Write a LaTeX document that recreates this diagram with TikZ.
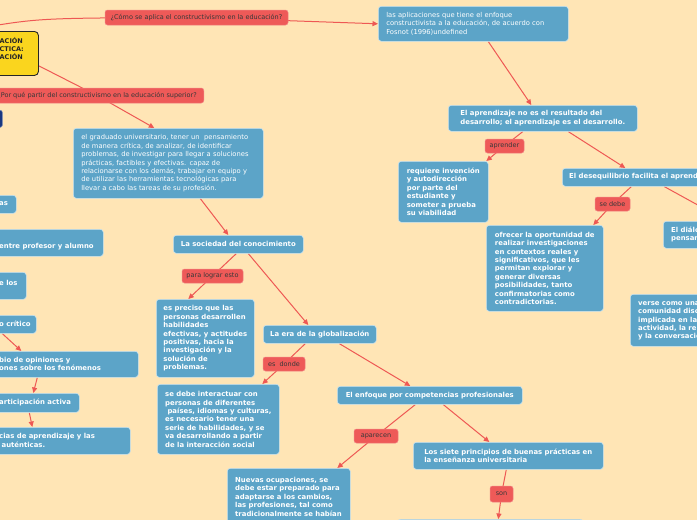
\documentclass[tikz,border=0pt]{standalone}
\usepackage{fontspec}
\setmainfont{DejaVu Sans}
\usetikzlibrary{arrows.meta}
\definecolor{bgc}{RGB}{255,229,181}
\definecolor{boxc}{RGB}{92,164,200}
\definecolor{boxedge}{RGB}{205,228,238}
\definecolor{redc}{RGB}{238,90,88}
\definecolor{linec}{RGB}{238,88,84}
\definecolor{yel}{RGB}{250,213,30}
\definecolor{navyc}{RGB}{25,55,128}
\newcommand\mfbold{\fontsize{6.9}{8.4}\selectfont\bfseries}
\newcommand\mfreg{\fontsize{6.75}{8.4}\selectfont}
\newcommand\mflab{\fontsize{6.5}{8}\selectfont}
\pgfdeclarelayer{back}
\pgfdeclarelayer{bg}
\pgfsetlayers{back,bg,main}
\tikzset{
  bbox/.style={fill=boxc, draw=boxedge, line width=0.6pt, rounded corners=3pt,
    text=white, font=\mfbold, align=left, inner xsep=0pt, inner ysep=0pt, anchor=north west},
  rbox/.style={bbox, font=\mfreg, inner xsep=8pt},
  btxt/.style={text=white, font=\mfbold, align=left, inner sep=0pt, anchor=west},
  lab/.style={fill=redc, draw=redc!75!white, line width=0.5pt, rounded corners=2.5pt,
    text=black!78, font=\mflab, inner sep=0pt},
  conn/.style={draw=linec, line width=1pt},
  arr/.style={conn, -{Triangle[length=5.5pt,width=5pt]}},
}
\begin{document}
\begin{tikzpicture}[x=1pt,y=-1pt]
\begin{pgfonlayer}{back}
\fill[bgc] (0,0) rectangle (697,520);
\end{pgfonlayer}
\useasboundingbox (0,0) rectangle (697,520);

% root
\node[fill=yel, draw=black!85, line width=0.9pt, rounded corners=4pt, minimum width=48, minimum height=44, anchor=north west, inner sep=0pt] (root) at (-10,31) {};
\node[font=\fontsize{6.5}{8}\selectfont\bfseries, text=black!85, align=left, inner sep=0pt, anchor=west] (roott) at (-0.5,49) {ACIÓN\\CTICA:\\ACIÓN};

% questions
\node[lab, minimum width=183, minimum height=15] (q1) at (196.5,17.5) {¿Cómo se aplica el constructivismo en la educación?};
\node[lab, minimum height=15, inner xsep=7pt, anchor=east] (q2) at (204,95.5) {¿Por qué partir del constructivismo en la educación superior?};
\node[fill=navyc, draw=navyc!60!white, line width=0.5pt, rounded corners=2pt, minimum width=12, minimum height=17, anchor=north west, inner sep=0pt] (navy) at (-10,110) {};

% right branch
\node[rbox, text width=174, minimum height=35] (apl) at (378,6) {las aplicaciones que tiene el enfoque\\constructivista a la educación, de acuerdo con\\Fosnot (1996)undefined};
\node[bbox, minimum width=189, minimum height=26] (apr) at (448,105) {El aprendizaje no es el resultado del\\desarrollo; el aprendizaje es el desarrollo.};
\node[lab, minimum width=39, minimum height=14] (laprender) at (504.5,146) {aprender};
\node[bbox, minimum width=90, minimum height=61] (req) at (398,161) {requiere invención\\y autodirección\\por parte del\\estudiante y\\someter a prueba\\su viabilidad};
\node[bbox, minimum width=160, minimum height=18] (deseq) at (562,168) {};
\node[btxt] (deseqt) at (569,177) {El desequilibrio facilita el aprend};
\node[lab, minimum width=35, minimum height=14] (lsedebe) at (612.5,204) {se debe};
\node[bbox, minimum width=117, minimum height=86] (ofrecer) at (486,225) {ofrecer la oportunidad de\\realizar investigaciones\\en contextos reales y\\significativos, que les\\permitan explorar y\\generar diversas\\posibilidades, tanto\\confirmatorias como\\contradictorias.};
\node[bbox, minimum width=60, minimum height=27] (dialogo) at (663,221) {};
\node[btxt] (dialogot) at (671,234.5) {El diálo\\pensam};
\node[bbox, minimum width=80, minimum height=52] (verse) at (630,294) {};
\node[btxt] (verset) at (638,321) {verse como una\\comunidad disc\\implicada en la\\actividad, la re\\y la conversació};
\coordinate (offright) at (725,220);

% middle branch
\node[rbox, text width=174, minimum height=70] (grad) at (73,128) {el graduado universitario, tener un \ pensamiento\\de manera crítica, de analizar, de identificar\\problemas, de investigar para llegar a soluciones\\prácticas, factibles y efectivas. capaz de\\relacionarse con los demás, trabajar en equipo y\\de utilizar las herramientas tecnológicas para\\llevar a cabo las tareas de su profesión.};
\node[bbox, minimum width=130, minimum height=18] (soc) at (173,235) {La sociedad del conocimiento};
\node[lab, minimum width=61, minimum height=14] (llograr) at (212.5,276) {para lograr esto};
\node[bbox, minimum width=98, minimum height=78] (preciso) at (156,299) {es preciso que las\\personas desarrollen\\habilidades\\efectivas, y actitudes\\positivas, hacia la\\investigación y la\\solución de\\problemas.};
\node[bbox, minimum width=113, minimum height=18] (era) at (263,325) {La era de la globalización};
\node[lab, minimum width=42, minimum height=14] (ldonde) at (284,364) {es \ donde};
\node[bbox, minimum width=122, minimum height=70] (interact) at (157,384) {se debe interactuar con\\personas de diferentes\\\ países, idiomas y culturas,\\es necesario tener una\\serie de habilidades, y se\\va desarrollando a partir\\de la interacción social};
\node[bbox, minimum width=185, minimum height=18] (enfoque) at (337,386) {El enfoque por competencias profesionales};
\node[lab, minimum width=44, minimum height=14] (laparecen) at (376,436) {aparecen};
\node[bbox, minimum width=123, minimum height=80] (nuevas) at (227,468) {};
\node[btxt, anchor=north west] (nuevast) at (235,477) {Nuevas ocupaciones, se\\debe estar preparado para\\adaptarse a los cambios,\\las profesiones, tal como\\tradicionalmente se habían};
\node[bbox, minimum width=190, minimum height=27] (siete) at (413,442) {Los siete principios de buenas prácticas en\\la enseñanza universitaria};
\node[lab, minimum width=23, minimum height=16] (lson) at (501.5,494) {son};
\node[bbox, minimum width=186, minimum height=30] (bottom) at (397,519) {};

% left column
\node[bbox, minimum width=76, minimum height=18] (l1) at (-60,195) {};
\node[btxt] (l1t) at (-1,204) {as};
\node[bbox, minimum width=163, minimum height=27] (l2) at (-60,229) {};
\node[btxt] (l2t) at (-1,246.5) {entre profesor y alumno};
\node[bbox, minimum width=86, minimum height=27] (l3) at (-60,272) {};
\node[btxt] (l3t) at (-1,282.5) {e los};
\node[bbox, minimum width=96, minimum height=18] (l4) at (-60,315) {};
\node[btxt] (l4t) at (-1,324) {o crítico};
\node[bbox, minimum width=198, minimum height=26] (l5) at (-60,351) {};
\node[btxt] (l5t) at (-1,364) {bio de opiniones y\\ones sobre los fenómenos};
\node[bbox, minimum width=139, minimum height=19] (l6) at (-60,393) {};
\node[btxt] (l6t) at (-1,402.5) {articipación activa};
\node[bbox, minimum width=190, minimum height=27] (l7) at (-60,427) {};
\node[btxt] (l7t) at (-1,440.5) {cias de aprendizaje y las\\\ auténticas.};
\coordinate (offleft) at (-20,28);

\begin{pgfonlayer}{bg}
\draw[conn] (offleft) .. controls (40,18) .. (q1.center);
\draw[arr] (q1.center) -- (apl.west);
\draw[arr] ([xshift=15]apl.south) -- ([xshift=-11.5]apr.north);
\draw[conn] ([xshift=-20]apr.south) -- (laprender.center);
\draw[arr] (laprender.center) -- ([xshift=43]req.north);
\draw[arr] ([xshift=25.5]apr.south) -- ([xshift=-17]deseq.north);
\draw[conn] ([xshift=-11]deseq.south) -- (lsedebe.center);
\draw[arr] (lsedebe.center) -- ([xshift=48.5]ofrecer.north);
\draw[conn] ([xshift=22]deseq.south) -- (offright);
\draw[conn] (root.center) -- (q2.center);
\draw[arr] (q2.center) -- ([xshift=-14]grad.north);
\draw[arr] ([xshift=32]grad.south) -- ([xshift=-10]soc.north);
\draw[conn] ([xshift=-2]soc.south) -- (llograr.center);
\draw[arr] (llograr.center) -- ([xshift=-17]preciso.north);
\draw[arr] ([xshift=10]soc.south) -- ([xshift=-11.5]era.north);
\draw[conn] ([xshift=-14.5]era.south) -- (ldonde.center);
\draw[arr] (ldonde.center) -- ([xshift=44]interact.north);
\draw[arr] ([xshift=19.5]era.south) -- ([xshift=-19.5]enfoque.north);
\draw[conn] ([xshift=-14.5]enfoque.south) -- (laparecen.center);
\draw[arr] (laparecen.center) -- ([xshift=48.5]nuevas.north);
\draw[arr] ([xshift=13.5]enfoque.south) -- ([xshift=-19]siete.north);
\draw[conn] ([xshift=-2]siete.south) -- (lson.center);
\draw[arr] (lson.center) -- ([xshift=8]bottom.north);
\draw[arr] ([xshift=14]l4.south) -- ([xshift=-18]l5.north);
\draw[arr] ([xshift=-2]l5.south) -- ([xshift=23.5]l6.north);
\draw[arr] ([xshift=19.5]l6.south) -- ([xshift=-3]l7.north);
\end{pgfonlayer}
\end{tikzpicture}
\end{document}
